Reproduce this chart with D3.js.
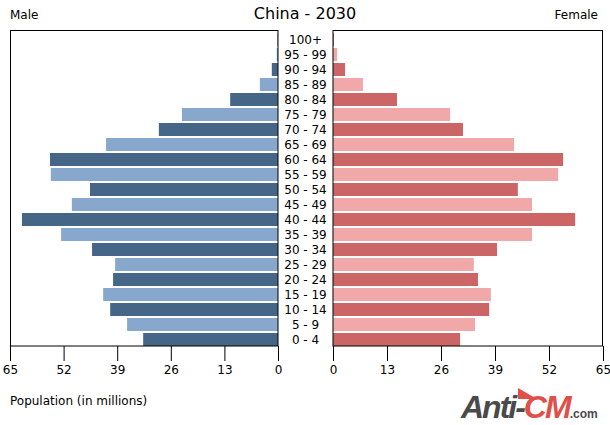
<!DOCTYPE html>
<html>
<head>
<meta charset="utf-8">
<script src="https://cdn.jsdelivr.net/npm/d3@7"></script>
<style>
  body { margin: 0; background: #fff; }
  svg { font-family: "DejaVu Sans", sans-serif; }
</style>
</head>
<body>
<svg id="chart" width="610" height="425"></svg>
<script>
var ageGroups = ["0 - 4", "5 - 9", "10 - 14", "15 - 19", "20 - 24", "25 - 29", "30 - 34",
  "35 - 39", "40 - 44", "45 - 49", "50 - 54", "55 - 59", "60 - 64", "65 - 69",
  "70 - 74", "75 - 79", "80 - 84", "85 - 89", "90 - 94", "95 - 99", "100+"];
var male = [32.7, 36.6, 40.7, 42.4, 40.0, 39.5, 45.1, 52.6, 62.1, 50.0, 45.6,
  55.1, 55.3, 41.7, 28.9, 23.3, 11.6, 4.4, 1.5, 0.3, 0.1];
var female = [30.6, 34.2, 37.6, 38.0, 34.9, 33.9, 39.5, 47.9, 58.3, 47.9, 44.5,
  54.2, 55.4, 43.6, 31.3, 28.2, 15.4, 7.2, 2.9, 1.0, 0.2];
var tickValues = [0, 13, 26, 39, 52, 65];

var svg = d3.select("#chart");
var plotTop = 31, plotBottom = 346;

var y = d3.scaleBand()
  .domain(ageGroups.slice().reverse())
  .range([33, plotBottom])
  .paddingInner(2 / 15)
  .paddingOuter(0);

var xLeft = d3.scaleLinear().domain([0, 65]).range([278, 10]);
var xRight = d3.scaleLinear().domain([0, 65]).range([333, 603]);

svg.append("text").attr("x", 305).attr("y", 19).attr("text-anchor", "middle")
  .style("font-size", "16px").text("China - 2030");
svg.append("text").attr("x", 10).attr("y", 19).style("font-size", "12px").text("Male");
svg.append("text").attr("x", 598).attr("y", 19).attr("text-anchor", "end")
  .style("font-size", "12px").text("Female");

// male bars
svg.append("g").selectAll("rect").data(male).join("rect")
  .attr("x", d => xLeft(d))
  .attr("y", (d, i) => y(ageGroups[i]))
  .attr("width", d => xLeft(0) - xLeft(d))
  .attr("height", y.bandwidth())
  .attr("fill", (d, i) => i % 2 == 0 ? "#466688" : "#87a8cc");

// female bars
svg.append("g").selectAll("rect").data(female).join("rect")
  .attr("x", xRight(0))
  .attr("y", (d, i) => y(ageGroups[i]))
  .attr("width", d => xRight(d) - xRight(0))
  .attr("height", y.bandwidth())
  .attr("fill", (d, i) => i % 2 == 0 ? "#cc6666" : "#f0a8a8");

// panel frames
svg.append("rect").attr("x", 10.5).attr("y", plotTop - 0.5).attr("width", 267.5).attr("height", plotBottom - plotTop + 0.5)
  .attr("fill", "none").attr("stroke", "#000");
svg.append("rect").attr("x", 333).attr("y", plotTop - 0.5).attr("width", 269.5).attr("height", plotBottom - plotTop + 0.5)
  .attr("fill", "none").attr("stroke", "#000");

// age labels
svg.append("g").selectAll("text").data(ageGroups).join("text")
  .attr("x", 305.5)
  .attr("y", d => y(d) + y.bandwidth() / 2)
  .attr("dy", "0.36em")
  .attr("text-anchor", "middle")
  .style("font-size", "12px")
  .text(d => d);

// axes
var axL = svg.append("g").attr("transform", "translate(0," + plotBottom + ")")
  .call(d3.axisBottom(xLeft).tickValues(tickValues).tickSize(15).tickPadding(4));
var axR = svg.append("g").attr("transform", "translate(0," + plotBottom + ")")
  .call(d3.axisBottom(xRight).tickValues(tickValues).tickSize(15).tickPadding(4));
[axL, axR].forEach(function (ax) {
  ax.select(".domain").remove();
  ax.selectAll("text").style("font-size", "12px").style("font-family", "DejaVu Sans").attr("fill", "#000");
  ax.selectAll("line").attr("stroke", "#000");
});

svg.append("text").attr("x", 10).attr("y", 405).style("font-size", "12px").text("Population (in millions)");

// logo
var logo = svg.append("g");
logo.append("path").attr("d", "M518,388 L518,399 L537,399 Z").attr("fill", "#e0504a");
var lt = logo.append("text").attr("x", 461).attr("y", 418)
  .style("font-size", "32px").style("font-weight", "bold").style("font-style", "italic")
  .style("font-family", "Liberation Sans").style("letter-spacing", "-2px");
lt.append("tspan").attr("fill", "#4a4a4a").text("Anti-");
lt.append("tspan").attr("fill", "#e0504a").text("CM");
lt.append("tspan").attr("fill", "#4a4a4a").style("font-size", "12px").style("font-style", "normal")
  .style("letter-spacing", "0px").text(".com");
</script>
</body>
</html>
